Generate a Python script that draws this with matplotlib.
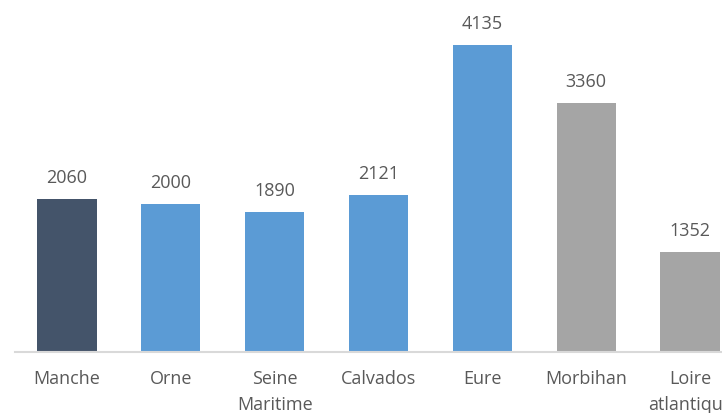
import matplotlib.pyplot as plt

departements = ["Manche", "Orne", "Seine\nMaritime", "Calvados", "Eure", "Morbihan", "Loire\natlantique"]
valeurs = [2060, 2000, 1890, 2121, 4135, 3360, 1352]
couleurs = ["#44546A", "#5B9BD5", "#5B9BD5", "#5B9BD5", "#5B9BD5", "#A5A5A5", "#A5A5A5"]

plt.rcParams["font.family"] = ["Open Sans", "DejaVu Sans"]

fig = plt.figure(figsize=(7.22, 4.13), dpi=100)
# axes volontairement plus large que la figure : la derniere etiquette est coupee
ax = fig.add_axes([15 / 722, 61 / 413, 727 / 722, 334 / 413])

x = range(len(valeurs))
barres = ax.bar(x, valeurs, width=0.57, color=couleurs, zorder=2)

for xi, v in zip(x, valeurs):
    ax.annotate(str(v), (xi, v), xytext=(0, 15), textcoords="offset points",
                ha="center", va="center", fontsize=13, color="#595959")

ax.set_xlim(-0.5, len(valeurs) - 0.5)
ax.set_ylim(0, 4500)
ax.set_xticks(list(x))
ax.set_xticklabels(departements, fontsize=13, color="#595959", linespacing=1.6)
ax.tick_params(axis="x", length=0, pad=13)
ax.set_yticks([])

for s in ["top", "right", "left"]:
    ax.spines[s].set_visible(False)
ax.spines["bottom"].set_color("#D9D9D9")
ax.spines["bottom"].set_linewidth(1.5)

fig.savefig("out.png", dpi=100)
